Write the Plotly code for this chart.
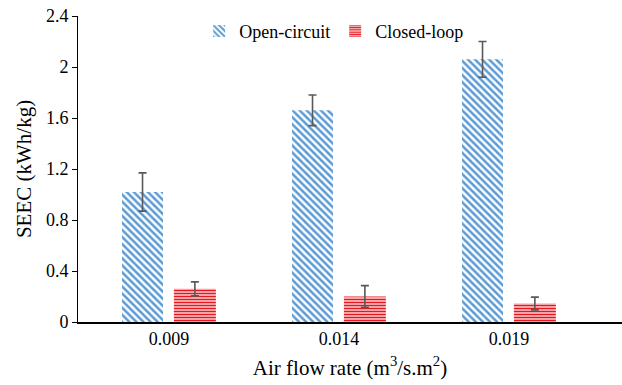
import plotly.graph_objects as go

categories = ["0.009", "0.014", "0.019"]
open_circuit = [1.02, 1.66, 2.06]
open_err = [0.15, 0.12, 0.14]
closed_loop = [0.26, 0.20, 0.145]
closed_err = [0.055, 0.085, 0.05]
y_ticks = [0, 0.4, 0.8, 1.2, 1.6, 2.0, 2.4]
y_tick_text = ["0", "0.4", "0.8", "1.2", "1.6", "2", "2.4"]

FONT = "Liberation Serif, Times New Roman, serif"

fig = go.Figure()
fig.add_trace(go.Bar(
    name="Open-circuit", x=categories, y=open_circuit,
    width=0.241, offset=-0.276,
    marker=dict(color="white", line=dict(width=0),
                pattern=dict(shape="\\", fgcolor="#5b9bd5", bgcolor="white",
                             size=5, solidity=0.5, fillmode="replace")),
    error_y=dict(type="data", array=open_err, color="#595959", thickness=1.6, width=4),
))
fig.add_trace(go.Bar(
    name="Closed-loop", x=categories, y=closed_loop,
    width=0.247, offset=0.029,
    marker=dict(color="white", line=dict(width=0),
                pattern=dict(shape="-", fgcolor="#e8161e", bgcolor="white",
                             size=3, solidity=0.6, fillmode="replace")),
    error_y=dict(type="data", array=closed_err, color="#595959", thickness=1.6, width=4),
))

fig.update_layout(
    width=622, height=385,
    margin=dict(l=78, r=0, t=16, b=63),
    plot_bgcolor="white", paper_bgcolor="white",
    barmode="group",
    font=dict(family=FONT, size=18, color="black"),
    legend=dict(orientation="h", x=0.47, y=0.95, xanchor="center", yanchor="middle",
                font=dict(family=FONT, size=18), itemwidth=30,
                bgcolor="rgba(0,0,0,0)"),
    xaxis=dict(type="category", range=[-0.535, 2.665], showline=True, linecolor="black",
               linewidth=1.5, ticks="",
               title=dict(text="Air flow rate (m<sup>3</sup>/s.m<sup>2</sup>)",
                          font=dict(family=FONT, size=21), standoff=12),
               tickfont=dict(family=FONT, size=18)),
    yaxis=dict(range=[0, 2.4], tickvals=y_ticks, ticktext=y_tick_text, showline=True,
               linecolor="black", linewidth=1, ticks="outside", ticklen=5, tickcolor="black",
               showgrid=False, zeroline=False,
               title=dict(text="SEEC (kWh/kg)", font=dict(family=FONT, size=21), standoff=8),
               tickfont=dict(family=FONT, size=18)),
)

fig.write_html("out.html")
